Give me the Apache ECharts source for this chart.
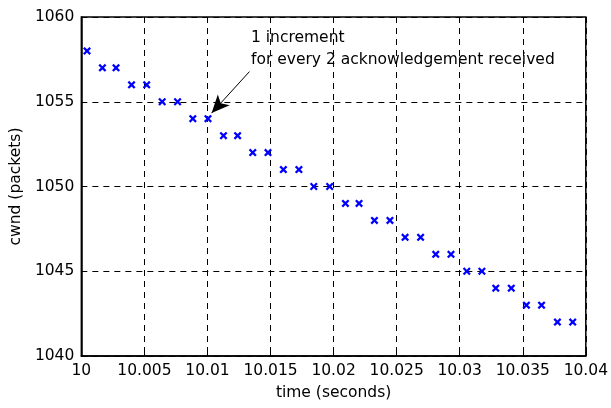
<!DOCTYPE html>
<html>
<head>
<meta charset="utf-8">
<script src="https://cdn.jsdelivr.net/npm/echarts@6/dist/echarts.min.js"></script>
<style>html,body{margin:0;padding:0;background:#fff}#c{width:611px;height:408px}</style>
</head>
<body>
<div id="c"></div>
<script>
const timeValues = [10.00045,10.00167,10.00275,10.00398,10.00518,10.00641,10.00763,10.00884,10.01004,10.01127,10.01239,10.01359,10.01480,10.01602,10.01725,10.01843,10.01969,10.02094,10.02202,10.02324,10.02447,10.02567,10.02690,10.02810,10.02931,10.03056,10.03176,10.03286,10.03409,10.03529,10.03649,10.03775,10.03896];
const cwndValues = [1058,1057,1057,1056,1056,1055,1055,1054,1054,1053,1053,1052,1052,1051,1051,1050,1050,1049,1049,1048,1048,1047,1047,1046,1046,1045,1045,1044,1044,1043,1043,1042,1042];
const arrowFrom = [10.01333, 1056.78];
const arrowTo = [10.01033, 1054.33];
const annotationLines = ['1 increment', 'for every 2 acknowledgement received'];
const xLabel = 'time (seconds)';
const yLabel = 'cwnd (packets)';

const FONT = '"DejaVu Sans", Arial, Helvetica, sans-serif';
const FS = 15.5;
const chart = echarts.init(document.getElementById('c'), null, {renderer: 'canvas'});
const gridLine = {show: true, lineStyle: {color: '#000', type: [6, 5], width: 1}};
const fmtX = v => String(parseFloat(v.toFixed(3)));
const fmtY = v => String(Math.round(v));
chart.setOption({
  animation: false,
  backgroundColor: '#fff',
  grid: {left: 80, right: 21, top: 17, bottom: 52, show: true, borderColor: '#000', borderWidth: 1.5, backgroundColor: 'transparent'},
  xAxis: {
    type: 'value', min: 10, max: 10.04, interval: 0.005,
    name: xLabel, nameLocation: 'middle', nameGap: 29,
    nameTextStyle: {color: '#000', fontSize: FS, fontFamily: FONT},
    axisLine: {show: true, onZero: false, lineStyle: {color: '#000', width: 1.5}},
    axisTick: {show: true, inside: true, length: 5, lineStyle: {color: '#000'}},
    axisLabel: {color: '#000', fontSize: FS, fontFamily: FONT, margin: 7, formatter: fmtX},
    splitLine: gridLine
  },
  yAxis: {
    type: 'value', min: 1040, max: 1060, interval: 5,
    name: yLabel, nameLocation: 'middle', nameGap: 57,
    nameTextStyle: {color: '#000', fontSize: FS, fontFamily: FONT},
    axisLine: {show: true, onZero: false, lineStyle: {color: '#000', width: 1.5}},
    axisTick: {show: true, inside: true, length: 5, lineStyle: {color: '#000'}},
    axisLabel: {color: '#000', fontSize: FS, fontFamily: FONT, margin: 7, formatter: fmtY},
    splitLine: gridLine
  },
  series: [{
    type: 'scatter',
    data: timeValues.map((t, i) => [t, cwndValues[i]]),
    symbol: 'path://M0,2L2,0L5,3L8,0L10,2L7,5L10,8L8,10L5,7L2,10L0,8L3,5Z',
    symbolSize: 8,
    itemStyle: {color: '#0000ff', opacity: 1},
    markLine: {
      silent: true,
      symbol: ['none', 'arrow'],
      symbolSize: [12, 18],
      lineStyle: {color: '#000', width: 1, type: 'solid'},
      label: {show: false},
      data: [[{coord: arrowFrom}, {coord: arrowTo}]]
    }
  }],
  graphic: [{
    type: 'text', left: 251, top: 27,
    style: {text: annotationLines.join('\n'), font: FS + 'px ' + FONT, fill: '#000', lineHeight: 22}
  }]
});
</script>
</body>
</html>
